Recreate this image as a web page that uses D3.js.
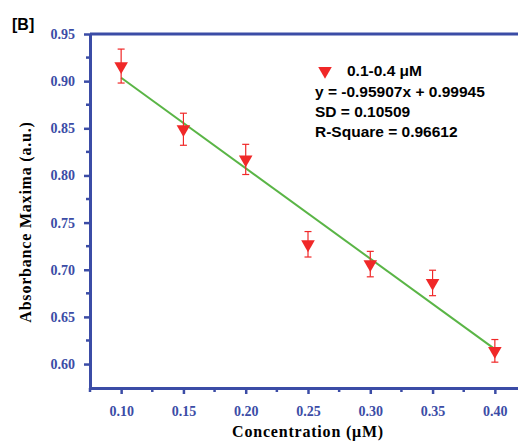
<html>
<head>
<script src="https://d3js.org/d3.v7.min.js"></script>
<style>
body { margin: 0; background: #fff; }
</style>
</head>
<body>
<div id="chart"></div>
<script>
// data
var conc = [0.10, 0.15, 0.20, 0.25, 0.30, 0.35, 0.40];
var absorb = [0.916, 0.849, 0.817, 0.727, 0.706, 0.686, 0.614];
var errs = [0.018, 0.017, 0.016, 0.0135, 0.0135, 0.0135, 0.012];
var fitX = [0.10, 0.40];
var fitY = [0.9036, 0.6158];
var xTicks = [0.10, 0.15, 0.20, 0.25, 0.30, 0.35, 0.40];
var yTicks = [0.60, 0.65, 0.70, 0.75, 0.80, 0.85, 0.90, 0.95];
var legendLines = ["y = -0.95907x + 0.99945", "SD = 0.10509", "R-Square = 0.96612"];

var W = 518, H = 442;
var margin = {top: 34, left: 90, bottom: 54};
var blue = "#3b4ca6", red = "#f02828", green = "#5ab546";
var serif = "Liberation Serif, Times New Roman, serif";
var sans = "Liberation Sans, Arial, sans-serif";

var svg = d3.select("#chart").append("svg")
    .attr("width", W).attr("height", H);

var x = d3.scaleLinear().domain([0.075, 0.425]).range([margin.left, margin.left + 436]);
var y = d3.scaleLinear().domain([0.5746, 0.95]).range([H - margin.bottom, margin.top]);

// minor ticks
var xMinor = d3.range(0.075, 0.43, 0.05);
var yMinor = d3.range(0.625, 0.95, 0.05);

svg.append("g").selectAll("line").data(xMinor).enter().append("line")
    .attr("x1", function (d) { return x(d); }).attr("x2", function (d) { return x(d); })
    .attr("y1", y.range()[0]).attr("y2", y.range()[0] + 4)
    .attr("stroke", blue).attr("stroke-width", 2.5);
svg.append("g").selectAll("line").data(yMinor).enter().append("line")
    .attr("x1", x.range()[0] - 4).attr("x2", x.range()[0])
    .attr("y1", function (d) { return y(d); }).attr("y2", function (d) { return y(d); })
    .attr("stroke", blue).attr("stroke-width", 2.5);

// axes
var xAxis = svg.append("g")
    .attr("transform", "translate(0," + y.range()[0] + ")")
    .call(d3.axisBottom(x).tickValues(xTicks).tickFormat(d3.format(".2f")).tickSize(6).tickPadding(12).tickSizeOuter(0));
var yAxis = svg.append("g")
    .attr("transform", "translate(" + x.range()[0] + ",0)")
    .call(d3.axisLeft(y).tickValues(yTicks).tickFormat(d3.format(".2f")).tickSize(6).tickPadding(9).tickSizeOuter(0));

[xAxis, yAxis].forEach(function (g) {
    g.select(".domain").attr("stroke", blue).attr("stroke-width", 3);
    g.selectAll(".tick line").attr("stroke", blue).attr("stroke-width", 2.5);
    g.selectAll(".tick text")
        .attr("fill", blue)
        .style("font-family", serif)
        .style("font-weight", "bold")
        .style("font-size", "14px");
});

// top frame
svg.append("line")
    .attr("x1", x.range()[0]).attr("x2", x.range()[1])
    .attr("y1", y.range()[1]).attr("y2", y.range()[1])
    .attr("stroke", blue).attr("stroke-width", 3);

// fit line
svg.append("path")
    .datum(d3.zip(fitX, fitY))
    .attr("fill", "none").attr("stroke", green).attr("stroke-width", 2)
    .attr("d", d3.line().x(function (d) { return x(d[0]); }).y(function (d) { return y(d[1]); }));

// error bars
var eb = svg.append("g").attr("stroke", red).attr("stroke-width", 1.2);
conc.forEach(function (c, i) {
    var cx = x(c), t = y(absorb[i] + errs[i]), b = y(absorb[i] - errs[i]);
    eb.append("line").attr("x1", cx).attr("x2", cx).attr("y1", t).attr("y2", b);
    eb.append("line").attr("x1", cx - 3.5).attr("x2", cx + 3.5).attr("y1", t).attr("y2", t);
    eb.append("line").attr("x1", cx - 3.5).attr("x2", cx + 3.5).attr("y1", b).attr("y2", b);
});

// triangles
var tri = d3.symbol().type(d3.symbolTriangle).size(80);
svg.append("g").selectAll("path").data(conc).enter().append("path")
    .attr("d", tri)
    .attr("transform", function (d, i) { return "translate(" + x(d) + "," + y(absorb[i]) + ") rotate(180)"; })
    .attr("fill", red);

// legend
svg.append("path").attr("d", tri)
    .attr("transform", "translate(325,71) rotate(180)")
    .attr("fill", red);
svg.append("text").attr("x", 347).attr("y", 76)
    .style("font-family", sans).style("font-weight", "bold").style("font-size", "15.5px")
    .text("0.1-0.4 \u03BCM");
svg.append("g").selectAll("text").data(legendLines).enter().append("text")
    .attr("x", 315).attr("y", function (d, i) { return 96.5 + i * 20.4; })
    .style("font-family", sans).style("font-weight", "bold").style("font-size", "15.5px")
    .text(function (d) { return d; });

// labels
svg.append("text").attr("x", 12).attr("y", 30)
    .style("font-family", sans).style("font-weight", "bold").style("font-size", "16px")
    .text("[B]");

svg.append("text")
    .attr("transform", "translate(31,222) rotate(-90)")
    .attr("text-anchor", "middle")
    .style("font-family", serif).style("font-weight", "bold").style("font-size", "16px")
    .style("letter-spacing", "0.8px")
    .text("Absorbance Maxima (a.u.)");

svg.append("text")
    .attr("x", 308).attr("y", 437)
    .attr("text-anchor", "middle")
    .style("font-family", serif).style("font-weight", "bold").style("font-size", "16px")
    .style("letter-spacing", "0.8px")
    .text("Concentration (\u03BCM)");
</script>
</body>
</html>
